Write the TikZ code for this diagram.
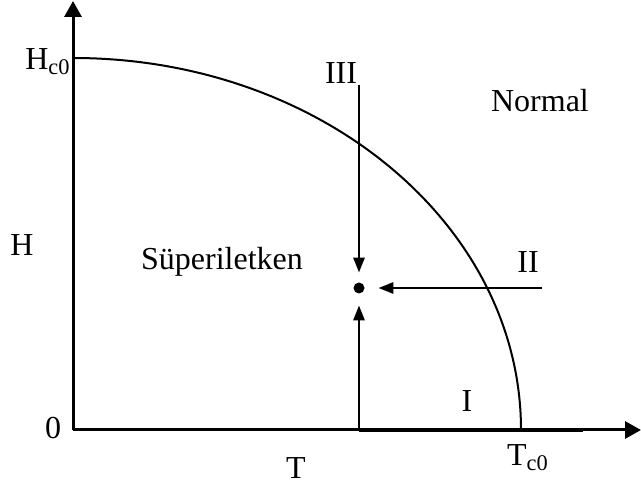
\documentclass[tikz,border=0pt]{standalone}
\usepackage{fontspec}
\setmainfont{Liberation Serif}
\usetikzlibrary{arrows.meta}

\begin{document}
\begin{tikzpicture}[x=0.5pt,y=0.5pt,
    >={Triangle[length=7.5pt,width=5.5pt]},
    axis/.style={line width=1.5pt,-{Triangle[length=8pt,width=8.5pt]}},
    path/.style={line width=1.4pt,->},
    lbl/.style={font=\fontsize{16}{19}\selectfont,inner sep=0pt}]
    \useasboundingbox (0,0) rectangle (641,486);
    % axes
    \coordinate (O) at (73,56);
    \coordinate (Tend) at (641,56);
    \coordinate (Hend) at (73,485);
    \draw[axis] (O) -- (Tend);
    \draw[axis] (O) -- (Hend);
    % critical field curve
    \draw[line width=1pt] (73,428) arc[start angle=90, end angle=0, x radius=224pt, y radius=186pt];
    % end state
    \node (pt) [circle,fill,inner sep=0pt,minimum size=5.5pt] at (359,198) {};
    % paths
    \coordinate (Istart) at (359,56);
    \coordinate (Iend) at (583,56);
    \coordinate (IIstart) at (542,198);
    \coordinate (IIIstart) at (359,401);
    \draw[line width=2pt] (Istart) -- (Iend);
    \draw[path,shorten >=5.75pt] (Istart) -- (pt);
    \draw[path,shorten >=6.75pt] (IIstart) -- (pt);
    \draw[path,shorten >=4.75pt] (IIIstart) -- (pt);
    % labels
    \node[lbl,anchor=east] (hc) at (71,424) {H\textsubscript{c0}};
    \node[lbl] (h) at (22,241) {H};
    \node[lbl] (zero) at (53,58) {0};
    \node[lbl] (t) at (296,18) {T};
    \node[lbl] (tc) at (528,28) {T\textsubscript{c0}};
    \node[lbl] (iii) at (341,413) {III};
    \node[lbl] (ii) at (528,224) {II};
    \node[lbl] (i) at (467,85) {I};
    \node[lbl] (normal) at (540,385) {Normal};
    \node[lbl] (sc) at (222,224) {Süperiletken};
\end{tikzpicture}
\end{document}
